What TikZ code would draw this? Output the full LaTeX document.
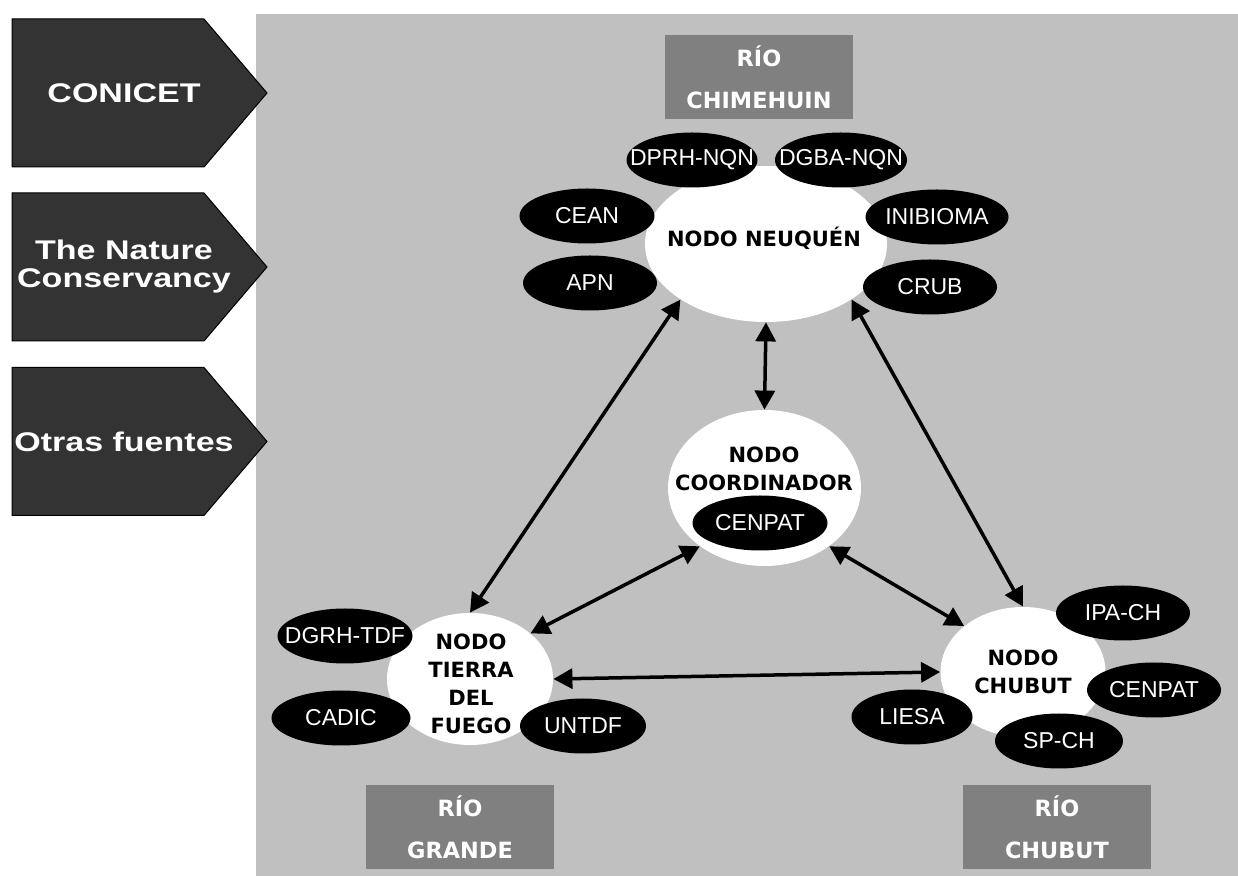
\documentclass[tikz,border=0pt]{standalone}
\usepackage{fontspec}
\setmainfont{Liberation Sans}
\newfontfamily\dejavu{DejaVu Sans}
\usetikzlibrary{arrows.meta, shapes.geometric, positioning}
\definecolor{panelgray}{HTML}{C0C0C0}
\definecolor{rivergray}{HTML}{808080}
\definecolor{srcgray}{HTML}{333333}
\newcommand{\widen}[1]{\scalebox{1.26}[1]{#1}}
\tikzset{%
>={Triangle[width=10pt,length=9.5pt]},
  % Specifications for style of nodes:
            hub/.style = {ellipse, fill=white, inner sep=-30pt,
                            font=\dejavu\bfseries\fontsize{10.5}{14}\selectfont, align=center},
            hubtext/.style = {font=\dejavu\bfseries\fontsize{10.5}{14}\selectfont, align=center},
            org/.style = {ellipse, fill=black, text=white, inner sep=-30pt,
                            minimum width=#1, minimum height=27.5pt,
                            font=\fontsize{11.5}{13}\selectfont},
            river/.style = {rectangle, fill=rivergray, text=white, minimum width=94pt,
                            minimum height=42pt, align=center,
                            font=\dejavu\bfseries\fontsize{11.2}{21}\selectfont},
            source/.style = {draw=black, fill=srcgray, line width=0.5pt},
            sourcetext/.style = {text=white, align=center,
                            font=\fontsize{13.5}{14}\selectfont\bfseries},
            link/.style = {<->, line width=1.75pt}
}

\begin{document}
\begin{tikzpicture}[x=0.5pt, y=-0.5pt]
    \useasboundingbox[fill=white] (0,0) rectangle (1238,876);
    \fill[panelgray] (256,14) rectangle (1238,876);
    % funding sources
    \foreach \i/\y/\t in {1/93/\widen{CONICET}, 2/267/{\widen{The Nature}\\\widen{Conservancy}}, 3/441.5/\widen{Otras fuentes}}{
        \draw[source] (12,\y-74) -- (204,\y-74) -- (267,\y) -- (204,\y+74) -- (12,\y+74) -- cycle;
        \node[sourcetext] (src\i) at (124,\y) {\t};
    }
    % rivers
    \node[river] (chimehuin) at (759,77.5) {RÍO\\CHIMEHUIN};
    \node[river] (grande) at (460,827) {RÍO\\GRANDE};
    \node[river] (chubut) at (1057,827) {RÍO\\CHUBUT};
    % nodes
    \node[hub, minimum width=121pt, minimum height=78pt] (nq) at (766,244) {};
    \node[hubtext] (nqlbl) at (764,238) {NODO NEUQUÉN};
    \node[hub, minimum width=96.5pt, minimum height=78pt] (coord) at (764.5,488) {};
    \node[hubtext] (coordlbl) at (764,469) {NODO\\COORDINADOR};
    \node[hub, minimum width=83pt, minimum height=66pt] (tdf) at (470,679) {};
    \node[hubtext] (tdflbl) at (471,684) {NODO\\TIERRA\\DEL\\FUEGO};
    \node[hub, minimum width=82.5pt, minimum height=65pt] (ch) at (1023,672) {NODO\\CHUBUT};
    % institutions
    \foreach \n/\x/\y/\w/\t in {dprh/692/160/65.5pt/DPRH-NQN, dgba/841/160/66pt/DGBA-NQN,
        cean/587/216/67.5pt/CEAN, inib/937/217/71.5pt/INIBIOMA, apn/590/283/67pt/APN,
        crub/930/287/67pt/CRUB, cenpco/760/523/67.5pt/CENPAT,
        dgrh/345/636/67.5pt/DGRH-TDF, cadic/341/718/69.5pt/CADIC, untdf/583/726/63pt/UNTDF,
        ipach/1123/613/67pt/IPA-CH, cenpch/1154/690/67pt/CENPAT, liesa/912/717/60.5pt/LIESA,
        spch/1059/741/64pt/SP-CH}{
        \node[org=\w] (\n) at (\x,\y) {\t};
    }
    % links
    \draw[link] (nq.south) -- (coord.north);
    \draw[link] (nq.213) -- (tdf.north);
    \draw[link] (nq.327) -- (ch.north);
    \draw[link] (coord.222) -- (tdf.37);
    \draw[link] (coord.318) -- (ch.142);
    \draw[link] (tdf.east) -- (ch.west);
\end{tikzpicture}
\end{document}
